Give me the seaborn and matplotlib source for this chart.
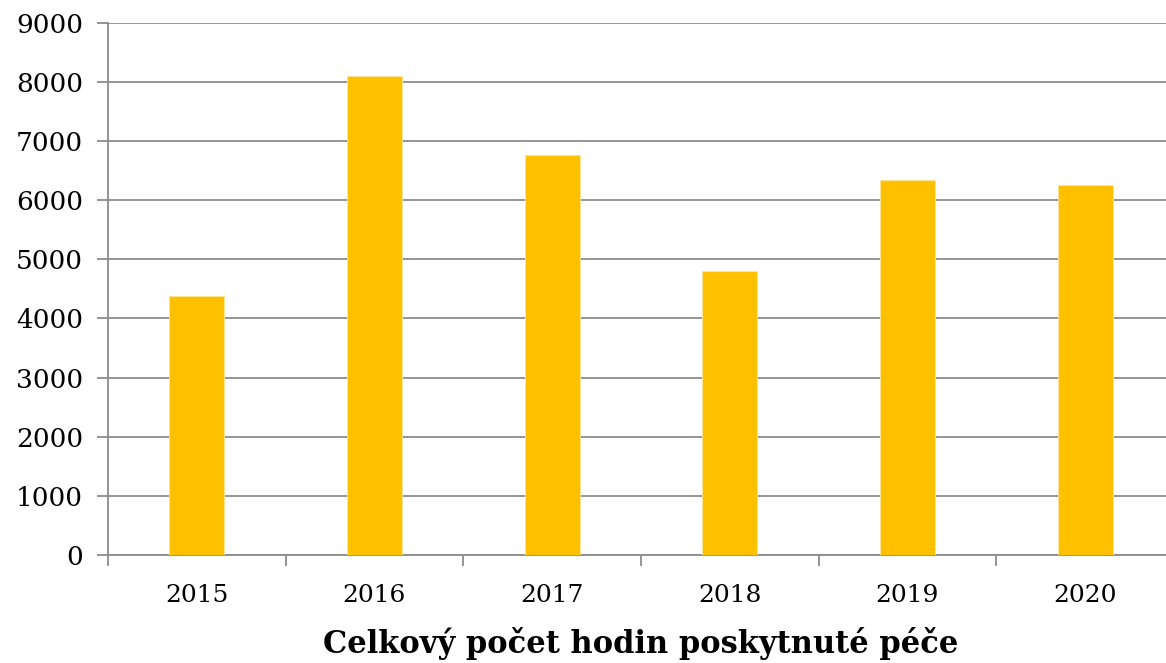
"""
Celkový počet hodin poskytnuté péče - bar chart recreation.
"""
import matplotlib
matplotlib.use("Agg")
import matplotlib.pyplot as plt
import pandas as pd
import seaborn as sns

years = ["2015", "2016", "2017", "2018", "2019", "2020"]
hours = [4380, 8100, 6760, 4810, 6340, 6255]
y_ticks = [0, 1000, 2000, 3000, 4000, 5000, 6000, 7000, 8000, 9000]
title = "Celkový počet hodin poskytnuté péče"

sns.set_style("white")
plt.rcParams["font.family"] = ["DejaVu Serif"]
plt.rcParams["text.color"] = "black"
plt.rcParams["xtick.color"] = "black"
plt.rcParams["ytick.color"] = "black"
plt.rcParams["axes.labelcolor"] = "black"

df = pd.DataFrame({"year": years, "hours": hours})

fig = plt.figure(figsize=(11.66, 6.63), dpi=100)
ax = fig.add_axes([108 / 1166, 1 - 555 / 663, (1174 - 108) / 1166, (555 - 22.7) / 663])

sns.barplot(data=df, x="year", y="hours", color="#FFC000", width=0.31,
            saturation=1, edgecolor="#FFE699", linewidth=0.6, ax=ax, zorder=3)

ax.set_ylim(0, 9000)
ax.set_yticks(y_ticks)
ax.set_xlim(-0.5, len(years) - 0.5)
ax.yaxis.grid(True, color="#8c8c8c", linewidth=1.3, zorder=0)
ax.set_axisbelow(True)

for side in ["top", "right"]:
    ax.spines[side].set_visible(False)
for side in ["left", "bottom"]:
    ax.spines[side].set_color("#8c8c8c")
    ax.spines[side].set_linewidth(1.3)

# y ticks point outward; x ticks sit between the categories
ax.tick_params(axis="y", left=True, length=8, width=1.3, color="#8c8c8c",
               labelcolor="black", labelsize=19, pad=10)
ax.set_xticks([i - 0.5 for i in range(len(years) + 1)], minor=True)
ax.tick_params(axis="x", which="major", bottom=True, length=0,
               labelcolor="black", labelsize=18, pad=21)
ax.tick_params(axis="x", which="minor", bottom=True, length=8, width=1.3,
               color="#8c8c8c")

ax.set_xlabel(title, fontsize=22, fontweight="bold", labelpad=14, color="black")
ax.set_ylabel("")

fig.savefig("out.png", dpi=100)
plt.close(fig)
